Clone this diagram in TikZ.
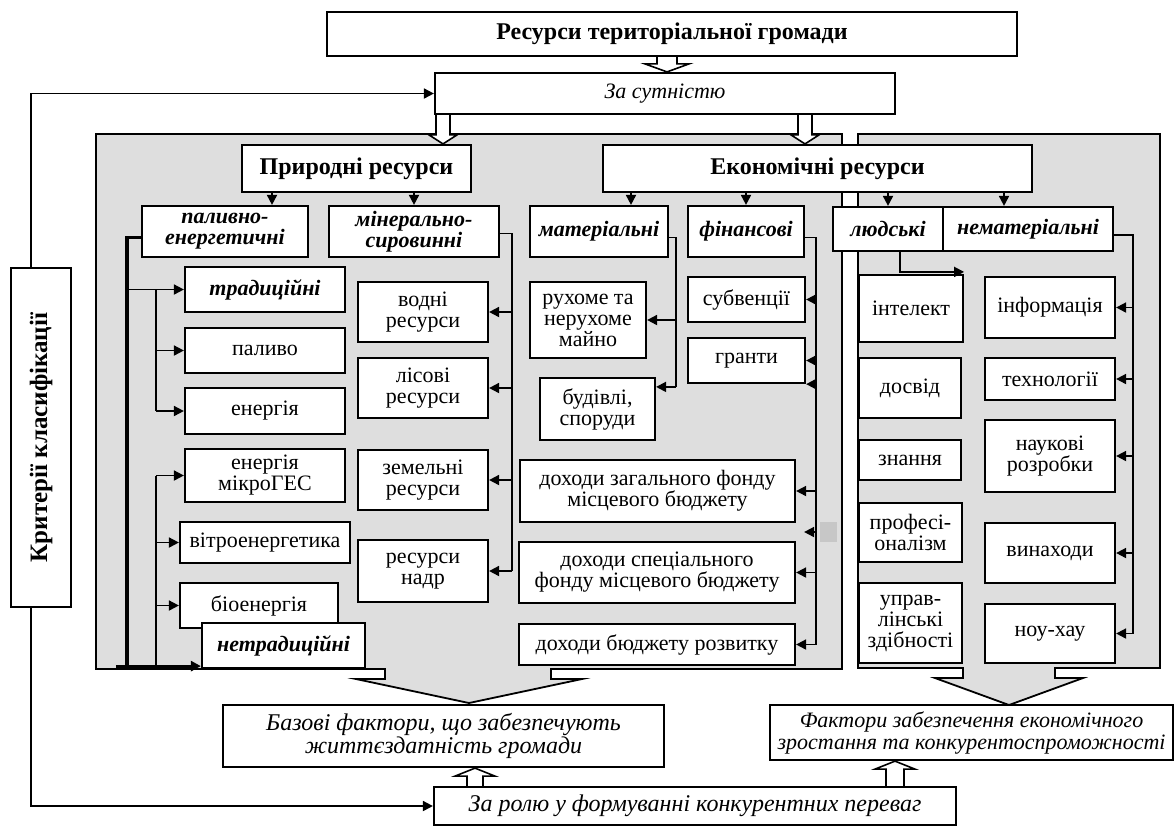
\documentclass[tikz,border=0pt]{standalone}
\usepackage{fontspec}
\setmainfont{Liberation Serif}
\usetikzlibrary{arrows.meta,calc}

\tikzset{
  box/.style={draw, line width=1.1pt, fill=white, inner sep=0pt, align=center,
    font=\fontsize{11}{10.5}\selectfont},
  sz/.style 2 args={minimum width=#1pt, minimum height=#2pt},
  headbox/.style={box, font=\fontsize{12}{12}\selectfont\bfseries},
  kind/.style={box, font=\fontsize{11}{10.5}\selectfont\bfseries\itshape},
  ital/.style={box, font=\fontsize{11}{11}\selectfont\itshape},
  bigital/.style={box, font=\fontsize{12}{11.5}\selectfont\itshape},
  link/.style={line width=0.9pt},
  thickl/.style={line width=1.6pt},
  arr/.style={line width=0.9pt, -{Triangle[length=5pt,width=5pt]}},
  hollow/.style={draw, line width=0.8pt, fill=white},
  panel/.style={draw, line width=0.9pt, fill=black!13},
}

\newcommand{\holarrow}[6]{%
  \draw[hollow] let \p1=(#1), \p2=(#2) in
    ({\x1-#3},\y1) -- ({\x1-#3},{\y2+(#6)*(#5)}) -- ({\x1-#4},{\y2+(#6)*(#5)})
    -- (\x1,\y2) -- ({\x1+#4},{\y2+(#6)*(#5)}) -- ({\x1+#3},{\y2+(#6)*(#5)})
    -- ({\x1+#3},\y1);}

\begin{document}
\begin{tikzpicture}[x=0.5pt,y=-0.5pt]
\useasboundingbox (0,0) rectangle (1176,827);

\draw[panel] (96,134) -- (842,134) -- (842,669) -- (551,669) -- (551,679) -- (582,679)
  -- (469,703) -- (356,679) -- (385,679) -- (385,669) -- (96,669) -- cycle;
\draw[panel] (858,134) -- (1160,134) -- (1160,668) -- (1055,668) -- (1055,678) -- (1083,678)
  -- (1009,705) -- (935,678) -- (963,678) -- (963,668) -- (858,668) -- cycle;
\fill[black!22] (820,522) rectangle (837,542);

\node[headbox, sz={345}{22}] (res) at (672,34) {Ресурси територіальної громади};
\node[ital, sz={230}{20.5}] (sut) at (665,93.5) {За сутністю};
\node[headbox, sz={114.5}{23.5}] (prir) at (356.5,168.5) {Природні ресурси};
\node[headbox, sz={214.5}{23.5}] (ekon) at (817.5,168.5) {Економічні ресурси};

\node[kind, sz={83}{25.5}] (palen) at (225,231.5) {паливно-\\енергетичні};
\node[kind, sz={85}{25.5}] (minsyr) at (414,231.5) {мінерально-\\сировинні};
\node[kind, sz={69}{25.5}] (mater) at (599,231.5) {матеріальні};
\node[kind, sz={58}{25.5}] (finan) at (746,231.5) {фінансові};
\node[kind, sz={55}{22}] (ljud) at (888,229) {людські};
\node[kind, sz={85}{22}] (nemat) at (1028,229) {нематеріальні};

\node[kind, sz={80}{22.5}] (trad) at (265,289.5) {традиційні};
\node[box, sz={80}{22.5}] (palyvo) at (265,350.5) {паливо};
\node[box, sz={80}{23}] (energ) at (265,411) {енергія};
\node[box, sz={80}{26.5}] (mges) at (265,475.5) {енергія\\мікроГЕС};
\node[box, sz={85}{20.5}] (vitro) at (265,542.5) {вітроенергетика};
\node[box, sz={79}{22.5}] (bio) at (259,605.5) {біоенергія};
\node[kind, sz={81.5}{22.5}] (netrad) at (283.5,645.5) {нетрадиційні};

\node[box, sz={65}{30}] (vodni) at (423,312) {водні\\ресурси};
\node[box, sz={65}{30}] (lisovi) at (423,388) {лісові\\ресурси};
\node[box, sz={65}{30}] (zemelni) at (423,480) {земельні\\ресурси};
\node[box, sz={65}{31}] (nadra) at (423,571) {ресурси\\надр};

\node[box, sz={58}{38}] (ruhome) at (588,320) {рухоме та\\нерухоме\\майно};
\node[box, sz={57.5}{31}] (budivli) at (597.5,409) {будівлі,\\споруди};
\node[box, sz={58.5}{22.5}] (subv) at (746.5,299.5) {субвенції};
\node[box, sz={58.5}{22.5}] (granty) at (746.5,360.5) {гранти};
\node[box, sz={137.5}{31}] (dzag) at (657.5,491) {доходи загального фонду\\місцевого бюджету};
\node[box, sz={138}{30.5}] (dspec) at (657,572.5) {доходи спеціального\\фонду місцевого бюджету};
\node[box, sz={138}{20.5}] (drozv) at (657,644.5) {доходи бюджету розвитку};

\node[box, sz={52}{33.5}] (intel) at (911,308.5) {інтелект};
\node[box, sz={51}{30}] (dosvid) at (910,388) {досвід};
\node[box, sz={51}{20}] (znannja) at (910,460) {знання};
\node[box, sz={51.5}{29.5}] (prof) at (910.5,532.5) {професі-\\оналізм};
\node[box, sz={51.5}{40}] (uprav) at (910.5,623) {управ-\\лінські\\здібності};

\node[box, sz={65}{30.5}] (inform) at (1050,307.5) {інформація};
\node[box, sz={65}{21}] (tehn) at (1050,379) {технології};
\node[box, sz={65}{36}] (nauk) at (1050,456) {наукові\\розробки};
\node[box, sz={65}{30}] (vynah) at (1050,553) {винаходи};
\node[box, sz={65}{29.5}] (nouhau) at (1050,633.5) {ноу-хау};

\node[bigital, sz={220.5}{31}] (bazovi) at (443.5,736) {Базові фактори, що забезпечують\\життєздатність громади};
\node[ital, sz={201.5}{27.5}] (faktory) at (971.5,732.5) {Фактори забезпечення економічного\\зростання та конкурентоспроможності};
\node[bigital, sz={261}{19}] (rol) at (695,806) {За ролю у формуванні конкурентних переваг};
\node[box, sz={30}{169.5}] (kryt) at (41,437.5) {};
\node[rotate=90, font=\fontsize{12.5}{12.5}\selectfont\bfseries] (krytlab) at (kryt.center) {Критерії класифікації};

\draw[arr] ([xshift=-5pt]kryt.north) |- (sut.west);
\draw[arr] ([xshift=-5pt]kryt.south) |- (rol.west);

\holarrow{[xshift=-2.5pt]res.south}{sut.north}{5pt}{11pt}{4pt}{1}
\holarrow{[xshift=-111pt]sut.south}{prir.north}{3.5pt}{7pt}{4.5pt}{1}
\holarrow{[xshift=70pt]sut.south}{ekon.north}{3.5pt}{7pt}{4.5pt}{1}
\holarrow{[xshift=-110pt]rol.north}{bazovi.south}{4pt}{10pt}{4pt}{-1}
\holarrow{[xshift=100pt]rol.north}{faktory.south}{4.5pt}{10pt}{4pt}{-1}

\coordinate (a1) at ([xshift=23.5pt]palen.north);
\draw[arr] (a1 |- prir.south) -- (a1);
\draw[arr] (prir.south -| minsyr.north) -- (minsyr.north);
\coordinate (a2) at ([xshift=16pt]mater.north);
\draw[arr] (a2 |- ekon.south) -- (a2);
\draw[arr] (ekon.south -| finan.north) -- (finan.north);
\draw[arr] (ekon.south -| ljud.north) -- (ljud.north);
\coordinate (a3) at ([xshift=-12pt]nemat.north);
\draw[arr] (a3 |- ekon.south) -- (a3);

\coordinate (pb) at ([xshift=-7pt,yshift=-3pt]palen.west);
\coordinate (pbot) at ([yshift=1.5pt]netrad.south west);
\draw[thickl] ([yshift=-3pt]palen.west) -- (pb) -- (pb |- pbot);
\draw[arr, thickl] (pb |- pbot) ++(-11,0) -- (pbot);
\draw[arr] (pb |- trad.west) -- (trad.west);
\path (pb |- trad.west) ++(29,0) coordinate (pi);
\draw[link] (pi) -- (pi |- energ.west);
\foreach \n in {palyvo,energ} \draw[arr] (pi |- \n.west) -- (\n.west);
\draw[link] (pi |- mges.west) -- (pi |- pbot);
\foreach \n in {mges,vitro,bio} \draw[arr] (pi |- \n.west) -- (\n.west);

\draw[link] ([yshift=-1pt]minsyr.east) -- ++(12,0) coordinate (mb) -- (mb |- nadra.east);
\foreach \n in {vodni,lisovi,zemelni,nadra} \draw[arr] (mb |- \n.east) -- (\n.east);

\coordinate (bv) at ([yshift=-5pt]budivli.north east);
\draw[link] ([yshift=-3pt]mater.east) -- ++(7,0) coordinate (tb) -- (tb |- bv);
\foreach \n in {ruhome.east,bv} \draw[arr] (tb |- \n) -- (\n);

\coordinate (gap) at ([xshift=4pt]$(dzag.south east)!.5!(dspec.north east)$);
\draw[link] ([yshift=-3pt]finan.east) -- ++(11,0) coordinate (fb) -- (fb |- drozv.east);
\foreach \n in {subv.east,granty.east,granty.south east,dzag.east,gap,dspec.east,drozv.east}
  \draw[arr] (fb |- \n) -- (\n);

\draw[arr] ([xshift=6pt]ljud.south) |- ([yshift=1pt]intel.north east);

\draw[link] ([yshift=-3pt]nemat.east) -- ++(19,0) coordinate (nb) -- (nb |- nouhau.east);
\foreach \n in {inform,tehn,nauk,vynah,nouhau} \draw[arr] (nb |- \n.east) -- (\n.east);

\end{tikzpicture}
\end{document}
